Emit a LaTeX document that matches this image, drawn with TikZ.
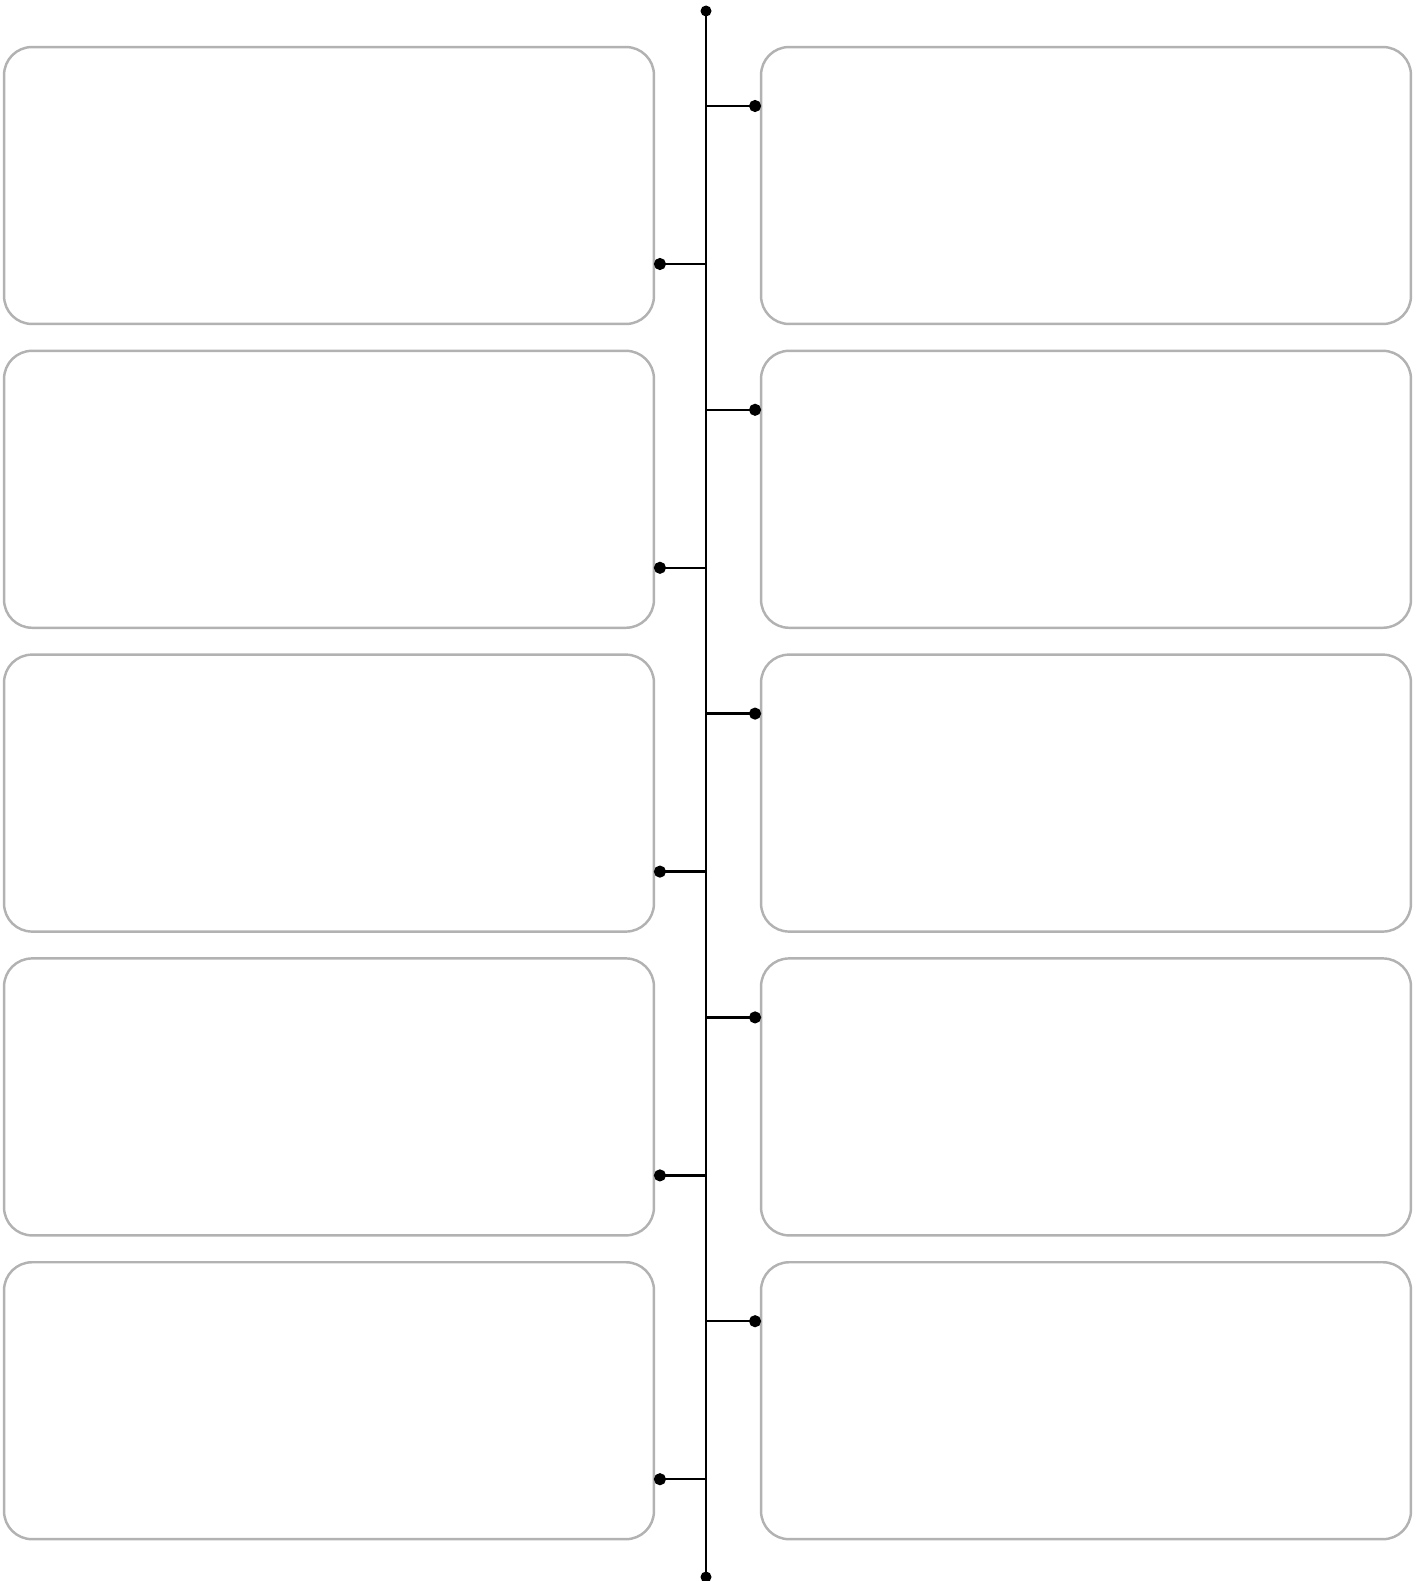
\documentclass[tikz,border=0pt]{standalone}
\usetikzlibrary{arrows.meta}

\begin{document}
\begin{tikzpicture}[x=0.02cm,y=-0.02cm,
  card/.style={draw=gray!60, line width=1.4pt, rounded corners=0.56cm,
    minimum width=13cm, minimum height=5.54cm, inner sep=0pt, outer sep=0pt},
  tick/.style={line width=1.4pt, {Circle[length=0.24cm]}-}]
\useasboundingbox (0,0) rectangle (1421,1581);
% ---- spine ----
\coordinate (top) at (706,11);
\coordinate (bot) at (706,1577);
\draw[line width=1.4pt] (top) -- (bot);
\fill (top) circle (0.11cm);
\fill (bot) circle (0.11cm);
% ---- cards and ticks ----
\foreach \i in {0,...,4} {
  \node[card] (L\i) at (329,185.5+303.8*\i) {};
  \node[card] (R\i) at (1086,185.5+303.8*\i) {};
  \coordinate (sl\i) at (706,264+303.8*\i);
  \coordinate (sr\i) at (706,106+303.8*\i);
  \draw[tick] (L\i.east |- sl\i) -- (sl\i);
  \draw[tick] (R\i.west |- sr\i) -- (sr\i);
}
\end{tikzpicture}
\end{document}
